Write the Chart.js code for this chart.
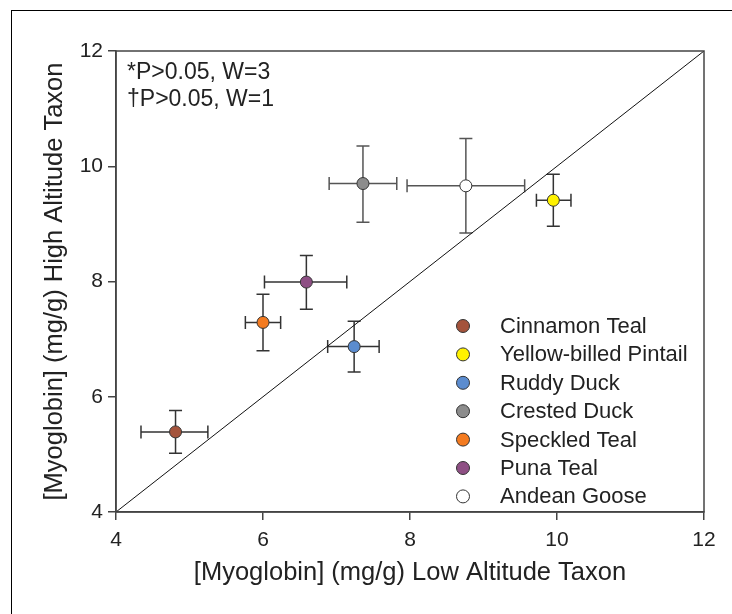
<!DOCTYPE html>
<html>
<head>
<meta charset="utf-8">
<script src="https://cdn.jsdelivr.net/npm/chart.js@4.4.1/dist/chart.umd.min.js"></script>
<style>
    html, body { margin: 0; padding: 0; background: #fff; }
    #wrap { position: relative; width: 732px; height: 614px; overflow: hidden; background: #fff; }
    #frame { position: absolute; left: 11px; top: 10px; right: -10px; bottom: -10px; border-left: 1.5px solid #000; border-top: 1.5px solid #000; pointer-events: none; }
    canvas { position: absolute; left: 0; top: 0; }
</style>
</head>
<body>
<div id="wrap">
    <canvas id="myoChart" width="732" height="614"></canvas>
    <div id="frame"></div>
</div>
<script>
const taxa = ['Cinnamon Teal', 'Yellow-billed Pintail', 'Ruddy Duck', 'Crested Duck', 'Speckled Teal', 'Puna Teal', 'Andean Goose'];

// low altitude taxon (x) mean and error range
const lowMean = [4.81, 9.95, 7.24, 7.36, 6.00, 6.59, 8.76];
const lowMin  = [4.34, 9.72, 6.88, 6.90, 5.76, 6.02, 7.96];
const lowMax  = [5.25, 10.19, 7.58, 7.82, 6.24, 7.14, 9.56];

// high altitude taxon (y) mean and error range
const highMean = [5.39, 9.41, 6.87, 9.70, 7.29, 7.99, 9.66];
const highMin  = [5.02, 8.96, 6.43, 9.03, 6.80, 7.52, 8.84];
const highMax  = [5.76, 9.86, 7.31, 10.35, 7.78, 8.45, 10.48];

const tickValues = [4, 6, 8, 10, 12];
const identityLine = [4, 12];
const notes = ['*P>0.05, W=3', '\u2020P>0.05, W=1'];

const pointColors = ['#a4533b', '#fff200', '#5b8ccf', '#8c8c8c', '#f47b20', '#8e4f84', '#ffffff'];
const barColors = ['#333', '#333', '#333', '#555', '#333', '#333', '#555'];

const FONT = 'Arial, "Liberation Sans", sans-serif';
const TEXT = '#222';
const AXIS = '#444';

const errorBars = {
    id: 'errorBars',
    beforeDatasetsDraw(chart) {
        const { ctx, scales: { x, y } } = chart;
        const cap = 6.5;
        ctx.save();
        ctx.lineWidth = 1.5;
        taxa.forEach((name, i) => {
            const px = x.getPixelForValue(lowMean[i]);
            const py = y.getPixelForValue(highMean[i]);
            const x0 = x.getPixelForValue(lowMin[i]);
            const x1 = x.getPixelForValue(lowMax[i]);
            const y0 = y.getPixelForValue(highMin[i]);
            const y1 = y.getPixelForValue(highMax[i]);
            ctx.strokeStyle = barColors[i];
            ctx.beginPath();
            ctx.moveTo(x0, py); ctx.lineTo(x1, py);
            ctx.moveTo(x0, py - cap); ctx.lineTo(x0, py + cap);
            ctx.moveTo(x1, py - cap); ctx.lineTo(x1, py + cap);
            ctx.moveTo(px, y0); ctx.lineTo(px, y1);
            ctx.moveTo(px - cap, y0); ctx.lineTo(px + cap, y0);
            ctx.moveTo(px - cap, y1); ctx.lineTo(px + cap, y1);
            ctx.stroke();
        });
        ctx.restore();
    }
};

const extras = {
    id: 'extras',
    afterDraw(chart) {
        const { ctx, chartArea: a } = chart;
        ctx.save();
        // plot box
        ctx.strokeStyle = AXIS;
        ctx.lineWidth = 1.5;
        ctx.strokeRect(a.left, a.top, a.right - a.left, a.bottom - a.top);

        // notes top-left
        ctx.fillStyle = TEXT;
        ctx.font = '23px ' + FONT;
        ctx.textAlign = 'left';
        ctx.textBaseline = 'middle';
        notes.forEach((t, i) => ctx.fillText(t, a.left + 11, a.top + 22 + i * 26.5));

        // legend inside the plot, lower right
        const lx = a.left + 347;
        const ly = a.top + 275;
        chart.data.datasets.forEach((ds, i) => {
            if (ds.type === 'line') return;
            const yy = ly + i * 28.4;
            ctx.beginPath();
            ctx.arc(lx, yy, 6.5, 0, Math.PI * 2);
            ctx.fillStyle = ds.backgroundColor;
            ctx.fill();
            ctx.strokeStyle = '#333';
            ctx.lineWidth = 1;
            ctx.stroke();
            ctx.fillStyle = TEXT;
            ctx.font = '22px ' + FONT;
            ctx.fillText(ds.label, lx + 37, yy + 1);
        });
        ctx.restore();
    }
};

const datasets = taxa.map((name, i) => ({
    label: name,
    data: [{ x: lowMean[i], y: highMean[i] }],
    backgroundColor: pointColors[i],
    borderColor: '#333',
    borderWidth: 1,
    pointRadius: 6,
    pointHoverRadius: 6,
    order: 1
}));

datasets.push({
    type: 'line',
    label: 'identity',
    data: identityLine.map(v => ({ x: v, y: v })),
    borderColor: '#111',
    borderWidth: 1,
    pointRadius: 0,
    fill: false,
    order: 10
});

new Chart(document.getElementById('myoChart'), {
    type: 'scatter',
    data: { datasets: datasets },
    options: {
        responsive: false,
        animation: false,
        layout: { padding: { left: 0, top: 51, right: 28, bottom: 0 } },
        scales: {
            x: {
                type: 'linear',
                min: 4,
                max: 12,
                afterBuildTicks: s => { s.ticks = tickValues.map(v => ({ value: v })); },
                afterFit: s => { s.height = 102; },
                grid: { drawOnChartArea: false, tickLength: 8, color: AXIS, lineWidth: 1.5 },
                border: { color: AXIS, width: 1.5 },
                ticks: { color: TEXT, font: { family: FONT, size: 21 }, padding: 8 },
                title: {
                    display: true,
                    text: '[Myoglobin] (mg/g) Low Altitude Taxon',
                    color: TEXT,
                    font: { family: FONT, size: 25.5 },
                    padding: { top: 0, bottom: 26 }
                }
            },
            y: {
                type: 'linear',
                min: 4,
                max: 12,
                afterBuildTicks: s => { s.ticks = tickValues.map(v => ({ value: v })); },
                afterFit: s => { s.width = 116; },
                grid: { drawOnChartArea: false, tickLength: 8, color: AXIS, lineWidth: 1.5 },
                border: { color: AXIS, width: 1.5 },
                ticks: { color: TEXT, font: { family: FONT, size: 21 }, padding: 5 },
                title: {
                    display: true,
                    text: '[Myoglobin] (mg/g) High Altitude Taxon',
                    color: TEXT,
                    font: { family: FONT, size: 25.5 },
                    padding: { top: 40, bottom: 0 }
                }
            }
        },
        plugins: {
            legend: { display: false },
            tooltip: { enabled: false }
        }
    },
    plugins: [errorBars, extras]
});
</script>
</body>
</html>
